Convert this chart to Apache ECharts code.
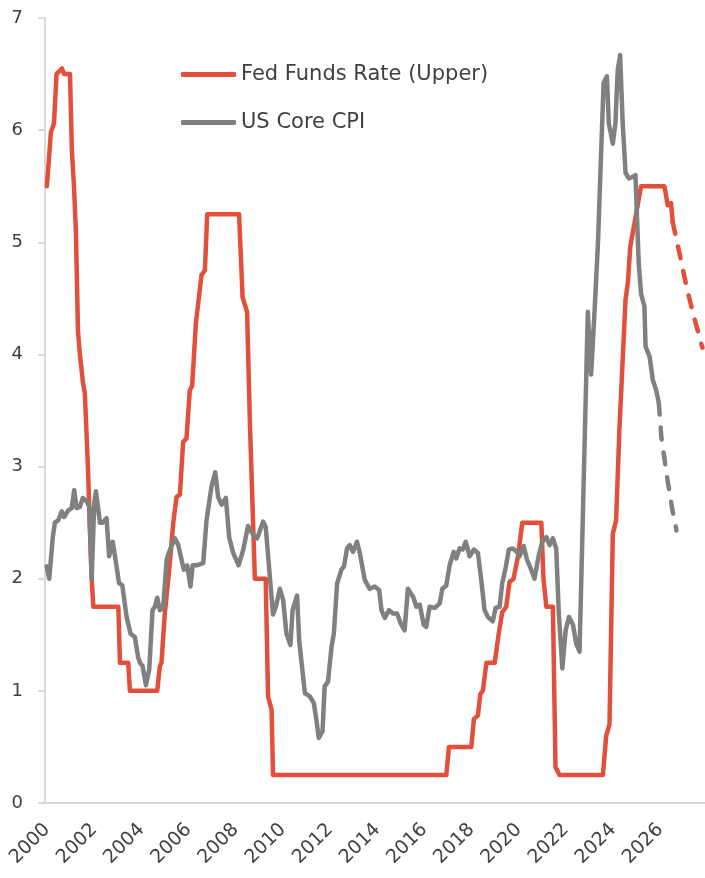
<!DOCTYPE html>
<html>
<head>
<meta charset="utf-8">
<script src="https://cdn.jsdelivr.net/npm/echarts@6/dist/echarts.min.js"></script>
<style>
  html, body { margin: 0; padding: 0; background: #ffffff; }
  #chart { width: 705px; height: 878px; }
</style>
</head>
<body>
<div id="chart"></div>
<script>
// Year labels shown along the bottom axis
const yearTicks = [2000, 2002, 2004, 2006, 2008, 2010, 2012, 2014, 2016, 2018, 2020, 2022, 2024, 2026];

// Fed Funds target rate, upper bound (%), [year, value]
const fedFundsActual = [
  [1999.75, 5.5], [1999.92, 5.98], [2000.05, 6.06], [2000.16, 6.5], [2000.39, 6.55], [2000.48, 6.5],
  [2000.73, 6.5], [2000.81, 5.82], [2000.90, 5.5], [2000.98, 5.1], [2001.07, 4.2], [2001.15, 4.0],
  [2001.28, 3.75], [2001.36, 3.65], [2001.49, 3.0], [2001.58, 2.4], [2001.65, 2.0], [2001.72, 1.75],
  [2002.78, 1.75], [2002.85, 1.25], [2003.20, 1.25], [2003.27, 1.0], [2004.43, 1.0], [2004.54, 1.22],
  [2004.61, 1.25], [2004.75, 1.69], [2004.90, 2.0], [2005.01, 2.25], [2005.11, 2.5], [2005.25, 2.73],
  [2005.39, 2.75], [2005.53, 3.22], [2005.67, 3.25], [2005.81, 3.68], [2005.91, 3.72], [2006.07, 4.28],
  [2006.31, 4.71], [2006.45, 4.75], [2006.55, 5.25], [2007.90, 5.25], [2008.05, 4.51], [2008.24, 4.38],
  [2008.36, 3.39], [2008.57, 2.0], [2009.03, 2.0], [2009.13, 0.95], [2009.28, 0.83], [2009.34, 0.25],
  [2016.69, 0.25], [2016.80, 0.5], [2017.75, 0.5], [2017.86, 0.75], [2018.03, 0.78], [2018.13, 0.97],
  [2018.24, 1.0], [2018.39, 1.25], [2018.74, 1.25], [2018.92, 1.52], [2019.06, 1.7], [2019.23, 1.75],
  [2019.37, 1.97], [2019.54, 2.0], [2019.73, 2.2], [2019.91, 2.5], [2020.72, 2.5], [2020.81, 2.0],
  [2020.93, 1.75], [2021.21, 1.75], [2021.32, 0.32], [2021.49, 0.25], [2023.33, 0.25], [2023.47, 0.6],
  [2023.61, 0.7], [2023.75, 2.4], [2023.89, 2.52], [2024.03, 3.33], [2024.29, 4.49], [2024.39, 4.64],
  [2024.49, 4.96], [2024.67, 5.17], [2024.95, 5.5], [2025.94, 5.5], [2026.08, 5.33], [2026.22, 5.35],
  [2026.29, 5.18]
];

// Fed Funds path ahead (dashed)
const fedFundsForecast = [
  [2026.29, 5.18], [2026.60, 4.88], [2026.90, 4.58], [2027.20, 4.33], [2027.55, 4.06]
];

// US core CPI, year-on-year (%), [year, value]
const coreCpiActual = [
  [1999.74, 2.11], [1999.85, 2.0], [2000.0, 2.37], [2000.09, 2.5], [2000.23, 2.52], [2000.38, 2.6],
  [2000.48, 2.55], [2000.66, 2.61], [2000.80, 2.63], [2000.91, 2.79], [2001.01, 2.63], [2001.15, 2.64],
  [2001.27, 2.72], [2001.44, 2.69], [2001.55, 2.64], [2001.65, 2.0], [2001.76, 2.68], [2001.83, 2.78],
  [2002.0, 2.5], [2002.11, 2.5], [2002.28, 2.54], [2002.39, 2.2], [2002.54, 2.33], [2002.64, 2.2],
  [2002.81, 1.96], [2002.95, 1.94], [2003.13, 1.66], [2003.30, 1.51], [2003.48, 1.48], [2003.62, 1.3],
  [2003.70, 1.25], [2003.81, 1.22], [2003.95, 1.05], [2004.09, 1.19], [2004.23, 1.72], [2004.33, 1.75],
  [2004.43, 1.83], [2004.54, 1.72], [2004.68, 1.74], [2004.83, 2.17], [2004.97, 2.26], [2005.18, 2.36],
  [2005.32, 2.3], [2005.46, 2.17], [2005.56, 2.08], [2005.70, 2.12], [2005.84, 1.93], [2005.93, 2.12],
  [2006.10, 2.12], [2006.38, 2.14], [2006.52, 2.52], [2006.73, 2.82], [2006.89, 2.95], [2007.01, 2.73],
  [2007.16, 2.66], [2007.34, 2.72], [2007.48, 2.37], [2007.65, 2.23], [2007.88, 2.12], [2008.08, 2.26],
  [2008.28, 2.47], [2008.50, 2.39], [2008.67, 2.36], [2008.92, 2.51], [2009.03, 2.46], [2009.34, 1.68],
  [2009.46, 1.75], [2009.63, 1.91], [2009.77, 1.81], [2009.91, 1.51], [2010.08, 1.41], [2010.17, 1.72],
  [2010.36, 1.85], [2010.45, 1.45], [2010.69, 0.98], [2010.90, 0.95], [2011.07, 0.89], [2011.18, 0.74],
  [2011.28, 0.58], [2011.44, 0.64], [2011.53, 1.04], [2011.67, 1.08], [2011.82, 1.39], [2011.92, 1.51],
  [2012.06, 1.96], [2012.24, 2.08], [2012.35, 2.11], [2012.48, 2.27], [2012.59, 2.3], [2012.73, 2.24],
  [2012.90, 2.33], [2013.02, 2.23], [2013.23, 1.99], [2013.44, 1.91], [2013.65, 1.93], [2013.84, 1.9],
  [2013.94, 1.72], [2014.08, 1.65], [2014.26, 1.72], [2014.43, 1.69], [2014.60, 1.69], [2014.78, 1.59],
  [2014.92, 1.54], [2015.06, 1.91], [2015.28, 1.84], [2015.42, 1.75], [2015.56, 1.77], [2015.73, 1.59],
  [2015.84, 1.57], [2015.98, 1.75], [2016.20, 1.74], [2016.41, 1.78], [2016.52, 1.91], [2016.69, 1.94],
  [2016.83, 2.12], [2017.0, 2.24], [2017.11, 2.18], [2017.25, 2.27], [2017.39, 2.26], [2017.51, 2.33],
  [2017.68, 2.2], [2017.86, 2.26], [2018.03, 2.23], [2018.17, 1.99], [2018.31, 1.72], [2018.45, 1.66],
  [2018.66, 1.62], [2018.78, 1.74], [2018.95, 1.75], [2019.06, 1.96], [2019.20, 2.09], [2019.34, 2.26],
  [2019.51, 2.27], [2019.68, 2.24], [2019.80, 2.2], [2019.97, 2.29], [2020.11, 2.17], [2020.29, 2.08],
  [2020.43, 2.0], [2020.61, 2.21], [2020.76, 2.33], [2020.93, 2.37], [2021.07, 2.3], [2021.21, 2.36],
  [2021.35, 2.27], [2021.46, 1.69], [2021.61, 1.2], [2021.75, 1.54], [2021.89, 1.66], [2022.06, 1.59],
  [2022.20, 1.42], [2022.34, 1.35], [2022.69, 4.38], [2022.83, 3.82], [2022.98, 4.4], [2023.12, 4.99],
  [2023.22, 5.59], [2023.36, 6.42], [2023.50, 6.48], [2023.58, 6.06], [2023.75, 5.88], [2023.86, 6.06],
  [2023.96, 6.54], [2024.06, 6.67], [2024.17, 6.06], [2024.29, 5.62], [2024.43, 5.57], [2024.57, 5.58],
  [2024.71, 5.6], [2024.85, 4.81], [2024.95, 4.54], [2025.09, 4.43], [2025.14, 4.07], [2025.31, 3.98],
  [2025.45, 3.77], [2025.59, 3.68], [2025.70, 3.57]
];

// Core CPI path ahead (dashed)
const coreCpiForecast = [
  [2025.70, 3.57], [2025.81, 3.26], [2026.07, 2.88], [2026.28, 2.61], [2026.45, 2.43]
];

const RED = '#E2503C';
const GREY = '#808080';
const TEXT = '#404040';
const AXIS = '#D9D9D9';
const FONT = 'DejaVu Sans';

const chart = echarts.init(document.getElementById('chart'), null, { renderer: 'canvas' });

function lineSeries(name, data, color, dashed) {
  return {
    name: name,
    type: 'line',
    data: data,
    showSymbol: false,
    symbol: 'none',
    animation: false,
    lineStyle: { color: color, width: 4.5, type: dashed ? [12, 13] : 'solid', cap: 'round', join: 'round' },
    itemStyle: { color: color }
  };
}

chart.setOption({
  backgroundColor: '#ffffff',
  animation: false,
  textStyle: { fontFamily: FONT },
  grid: { left: 45, right: 0, top: 18, bottom: 75, containLabel: false },
  legend: {
    show: true,
    orient: 'vertical',
    left: 176,
    top: 59,
    icon: 'roundRect',
    itemWidth: 55,
    itemHeight: 5,
    itemGap: 27,
    selectedMode: false,
    textStyle: { color: TEXT, fontSize: 21, fontFamily: FONT },
    data: ['Fed Funds Rate (Upper)', 'US Core CPI']
  },
  xAxis: {
    type: 'value',
    min: 1999.67,
    max: 2027.66,
    splitLine: { show: false },
    axisTick: { show: false },
    axisLine: { show: true, onZero: false, lineStyle: { color: AXIS, width: 2 } },
    axisLabel: {
      customValues: yearTicks,
      rotate: 45,
      margin: 18,
      padding: [0, 8, 0, 0],
      color: TEXT,
      fontSize: 19,
      fontFamily: FONT,
      formatter: function (v) { return String(Math.round(v)); }
    }
  },
  yAxis: {
    type: 'value',
    min: 0,
    max: 7,
    interval: 1,
    splitLine: { show: false },
    axisLine: { show: true, lineStyle: { color: AXIS, width: 2 } },
    axisTick: { show: true, length: 7, lineStyle: { color: AXIS, width: 2 } },
    axisLabel: { margin: 22, color: TEXT, fontSize: 18, fontFamily: FONT }
  },
  series: [
    lineSeries('Fed Funds Rate (Upper)', fedFundsActual, RED, false),
    lineSeries('Fed Funds Rate (Upper)', fedFundsForecast, RED, true),
    lineSeries('US Core CPI', coreCpiActual, GREY, false),
    lineSeries('US Core CPI', coreCpiForecast, GREY, true)
  ]
});
</script>
</body>
</html>
